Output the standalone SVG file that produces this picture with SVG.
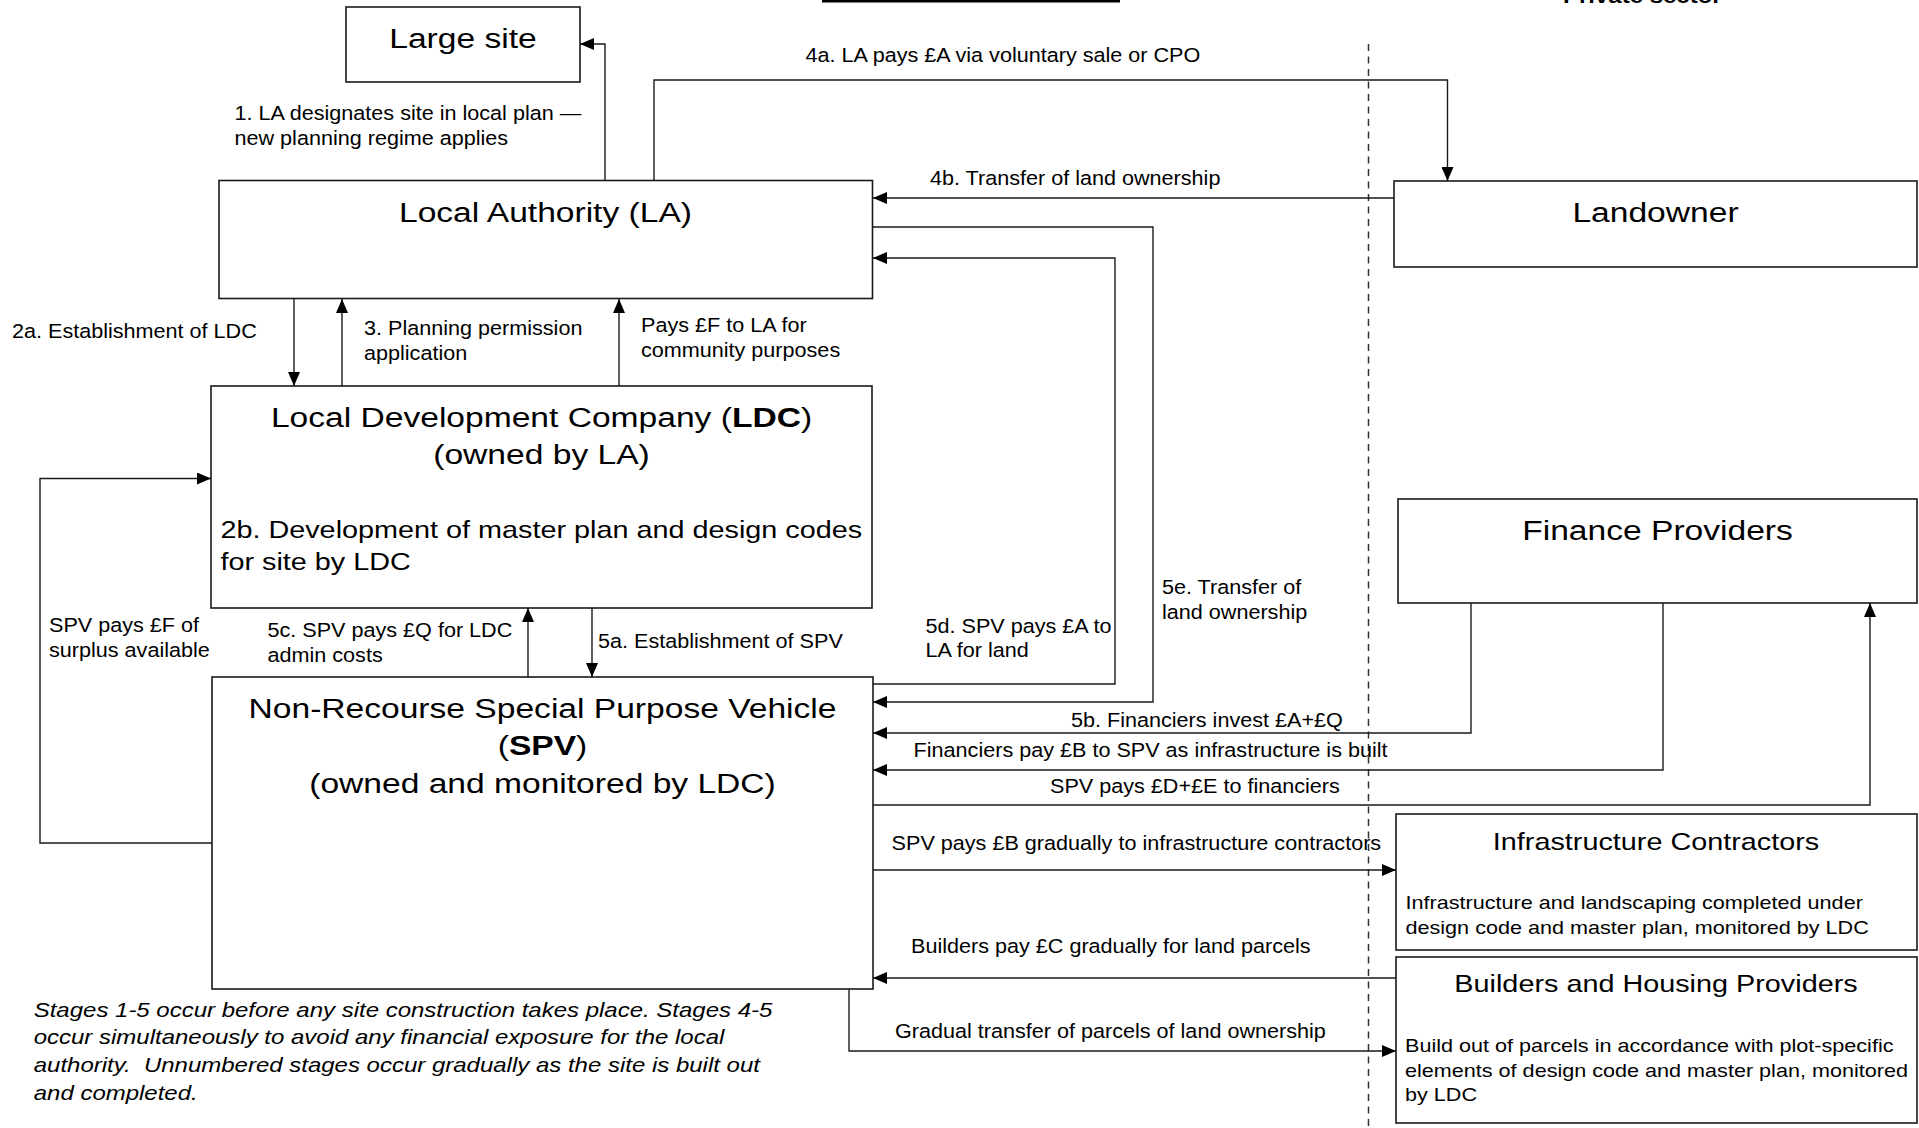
<svg xmlns="http://www.w3.org/2000/svg" width="1919" height="1128" viewBox="0 0 1919 1128">
<defs>
<marker id="arr" markerUnits="userSpaceOnUse" markerWidth="14" markerHeight="12" viewBox="0 0 14 12" refX="14" refY="6" orient="auto"><path d="M0,0 L14,6 L0,12 z" fill="#000"/></marker>
<style>
.box{fill:#fff;stroke:#1a1a1a;stroke-width:1.6}
.c{fill:none;stroke:#1a1a1a;stroke-width:1.4;marker-end:url(#arr)}
.t{font-family:"Liberation Sans",Arial,sans-serif;fill:#000}
.title{font-size:28px;text-anchor:middle}
.sub{font-size:24px}
.sm{font-size:18px}
.lb{font-size:19.5px}
.note{font-size:20px;font-style:italic}
.b{font-weight:bold}
.dash{fill:none;stroke:#333;stroke-width:1.5;stroke-dasharray:7 5.5}
</style>
</defs>
<rect x="822" y="0" width="298" height="2.5" fill="#000"/>
<text class="t b" font-size="20" transform="translate(1563 2.5) scale(1.2 1)">Private sector</text>
<line class="dash" x1="1368.5" y1="44" x2="1368.5" y2="1128"/>

<g id="connectors">
<path class="c" d="M605,180 V44 H580"/>
<path class="c" d="M654,180 V80 H1447.5 V181"/>
<path class="c" d="M1394,198 H873"/>
<path class="c" d="M873,684 H1115 V258 H873"/>
<path class="c" d="M873,227 H1153 V702 H873"/>
<path class="c" d="M1471,603 V733 H873"/>
<path class="c" d="M1663,603 V770 H873"/>
<path class="c" d="M873,805 H1870 V603"/>
<path class="c" d="M873,870 H1396"/>
<path class="c" d="M1396,978 H873"/>
<path class="c" d="M849,989 V1051 H1396"/>
<path class="c" d="M294,299 V386"/>
<path class="c" d="M342,386 V299"/>
<path class="c" d="M619,386 V299"/>
<path class="c" d="M212,843 H40 V478.5 H211"/>
<path class="c" d="M528,677 V608"/>
<path class="c" d="M592,608 V677"/>
<text class="t lb" transform="translate(234.5 120) scale(1.108 1)"><tspan x="0" y="0">1. LA designates site in local plan —</tspan><tspan x="0" y="25">new planning regime applies</tspan></text>
<text class="t lb" transform="translate(805.5 62) scale(1.108 1)">4a. LA pays £A via voluntary sale or CPO</text>
<text class="t lb" transform="translate(930 185) scale(1.108 1)">4b. Transfer of land ownership</text>
<text class="t lb" transform="translate(12 338) scale(1.108 1)">2a. Establishment of LDC</text>
<text class="t lb" transform="translate(364 335) scale(1.108 1)"><tspan x="0" y="0">3. Planning permission</tspan><tspan x="0" y="25">application</tspan></text>
<text class="t lb" transform="translate(641 332) scale(1.108 1)"><tspan x="0" y="0">Pays £F to LA for</tspan><tspan x="0" y="25">community purposes</tspan></text>
<text class="t lb" transform="translate(49 632) scale(1.108 1)"><tspan x="0" y="0">SPV pays £F of</tspan><tspan x="0" y="25">surplus available</tspan></text>
<text class="t lb" transform="translate(267.5 637) scale(1.108 1)"><tspan x="0" y="0">5c. SPV pays £Q for LDC</tspan><tspan x="0" y="25">admin costs</tspan></text>
<text class="t lb" transform="translate(598 648) scale(1.108 1)">5a. Establishment of SPV</text>
<text class="t lb" transform="translate(925.5 633) scale(1.108 1)"><tspan x="0" y="0">5d. SPV pays £A to</tspan><tspan x="0" y="24.5">LA for land</tspan></text>
<text class="t lb" transform="translate(1162 594) scale(1.108 1)"><tspan x="0" y="0">5e. Transfer of</tspan><tspan x="0" y="25">land ownership</tspan></text>
<text class="t lb" transform="translate(1071 727) scale(1.108 1)">5b. Financiers invest £A+£Q</text>
<text class="t lb" transform="translate(913.6 757) scale(1.108 1)">Financiers pay £B to SPV as infrastructure is built</text>
<text class="t lb" transform="translate(1050 793) scale(1.108 1)">SPV pays £D+£E to financiers</text>
<text class="t lb" transform="translate(891.6 850) scale(1.108 1)">SPV pays £B gradually to infrastructure contractors</text>
<text class="t lb" transform="translate(911 953) scale(1.108 1)">Builders pay £C gradually for land parcels</text>
<text class="t lb" transform="translate(895 1038) scale(1.108 1)">Gradual transfer of parcels of land ownership</text>
</g>

<g id="large-site"><rect class="box" x="346" y="7" width="234" height="75"/><text class="t title" transform="translate(463 47.5) scale(1.2 1)">Large site</text></g>
<g id="local-authority"><rect class="box" x="219" y="180.5" width="653.5" height="118"/><text class="t title" transform="translate(545.5 221.5) scale(1.2 1)">Local Authority (LA)</text></g>
<g id="landowner"><rect class="box" x="1394" y="181" width="523" height="86"/><text class="t title" transform="translate(1655.5 221.5) scale(1.2 1)">Landowner</text></g>
<g id="ldc"><rect class="box" x="211" y="386" width="661" height="222"/>
<text class="t title" transform="translate(541.5 426.7) scale(1.2 1)"><tspan x="0" y="0">Local Development Company (<tspan class="b">LDC</tspan>)</tspan><tspan x="0" y="37.5">(owned by LA)</tspan></text>
<text class="t sub" transform="translate(220.4 537.7) scale(1.2 1)"><tspan x="0" y="0">2b. Development of master plan and design codes</tspan><tspan x="0" y="32.3">for site by LDC</tspan></text></g>
<g id="spv"><rect class="box" x="212" y="677" width="661" height="312"/>
<text class="t title" transform="translate(542.5 718) scale(1.2 1)"><tspan x="0" y="0">Non-Recourse Special Purpose Vehicle</tspan><tspan x="0" y="37.5">(<tspan class="b">SPV</tspan>)</tspan><tspan x="0" y="75">(owned and monitored by LDC)</tspan></text></g>
<g id="finance-providers"><rect class="box" x="1398" y="499" width="519" height="104"/><text class="t title" transform="translate(1657.5 540) scale(1.2 1)">Finance Providers</text></g>
<g id="infrastructure-contractors"><rect class="box" x="1396" y="814" width="521" height="136"/>
<text class="t sub" text-anchor="middle" transform="translate(1656 850) scale(1.2 1)">Infrastructure Contractors</text>
<text class="t sm" transform="translate(1405.5 909) scale(1.2 1)"><tspan x="0" y="0">Infrastructure and landscaping completed under</tspan><tspan x="0" y="25">design code and master plan, monitored by LDC</tspan></text></g>
<g id="builders"><rect class="box" x="1396" y="957" width="521" height="166"/>
<text class="t sub" text-anchor="middle" transform="translate(1656 991.7) scale(1.2 1)">Builders and Housing Providers</text>
<text class="t sm" transform="translate(1405 1051.7) scale(1.2 1)"><tspan x="0" y="0">Build out of parcels in accordance with plot-specific</tspan><tspan x="0" y="25">elements of design code and master plan, monitored</tspan><tspan x="0" y="49.3">by LDC</tspan></text></g>
<g id="footnote">
<text class="t note" xml:space="preserve" transform="translate(33.7 1016.7) scale(1.2 1)"><tspan x="0" y="0">Stages 1-5 occur before any site construction takes place. Stages 4-5</tspan><tspan x="0" y="27.6">occur simultaneously to avoid any financial exposure for the local</tspan><tspan x="0" y="55">authority.  Unnumbered stages occur gradually as the site is built out</tspan><tspan x="0" y="83.3">and completed.</tspan></text>
</g>
</svg>
